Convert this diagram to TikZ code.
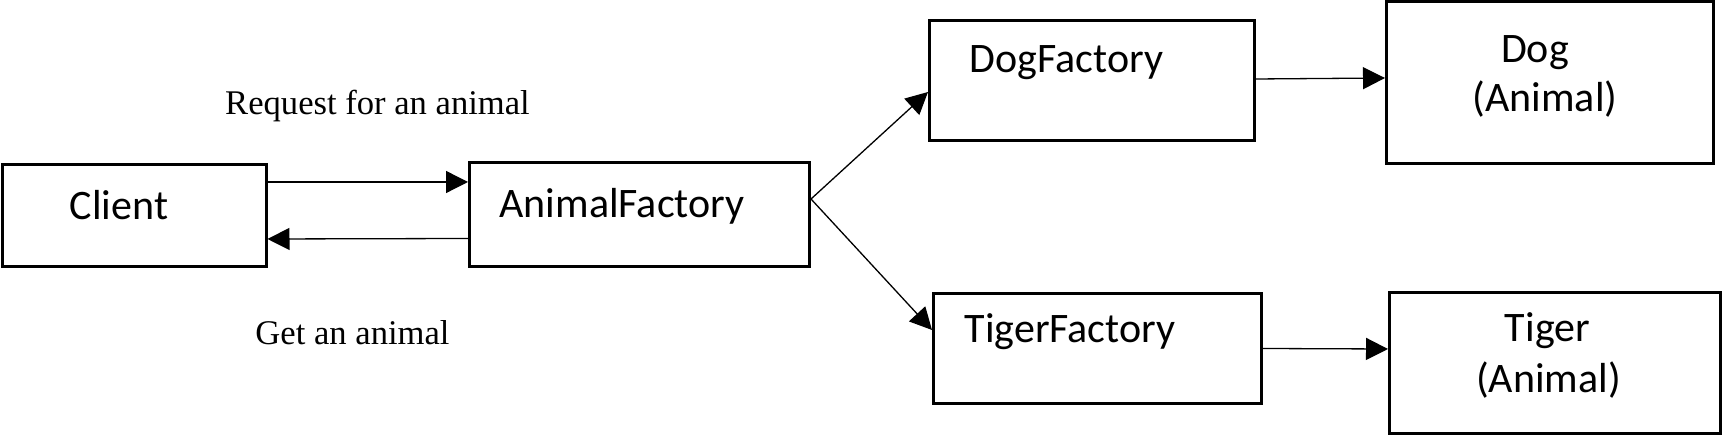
\documentclass[tikz,border=0pt]{standalone}
\usepackage{fontspec}
\setsansfont{Carlito}
\newfontfamily\notefont{Liberation Serif}
\usetikzlibrary{arrows.meta}

\begin{document}
\begin{tikzpicture}[x=0.5pt,y=-0.5pt]
    \useasboundingbox (0,0) rectangle (1725,437);

        % boxes
        \begin{scope}[every node/.style={rectangle,draw,line width=1.5pt,inner sep=0pt}]
            \node[minimum width=132pt,minimum height=51pt] (client) at (134,215.5) {};
            \node[minimum width=170pt,minimum height=52pt] (af) at (639.5,214.5) {};
            \node[minimum width=162.5pt,minimum height=60pt] (df) at (1092,80.5) {};
            \node[minimum width=163.5pt,minimum height=81pt] (dog) at (1550,82.5) {};
            \node[minimum width=164pt,minimum height=55pt] (tf) at (1097.5,348.5) {};
            \node[minimum width=165.5pt,minimum height=70.5pt] (tiger) at (1555,363) {};
        \end{scope}

        % box texts
        \begin{scope}[every node/.style={anchor=base,inner sep=0pt,font=\sffamily\fontsize{21}{25}\selectfont}]
            \node (clientT) at (119,220) {Client};
            \node (afT) at (622,218) {AnimalFactory};
            \node (dfT) at (1066.5,73) {DogFactory};
            \node (tfT) at (1070,343) {TigerFactory};
            \node (dogT) at (1535,63) {Dog};
            \node (dogA) at (1545,112) {(Animal)};
            \node (tigerT) at (1547.5,342) {Tiger};
            \node (tigerA) at (1548.5,393) {(Animal)};
        \end{scope}

        % notes
        \begin{scope}[every node/.style={anchor=base,inner sep=0pt,font=\notefont\fontsize{17.3}{20}\selectfont}]
            \node (req) at (377.5,115) {Request for an animal};
            \node (get) at (352.5,345) {Get an animal};
        \end{scope}

        \begin{scope}[>={Triangle[length=11pt,width=11pt]}, every edge/.style={draw,line width=0.65pt}]
            \path [->] ([yshift=16.75pt]client.east) edge ([yshift=16.25pt]af.west);
            \path [->] ([yshift=-12pt]af.west) edge ([yshift=-11.75pt]client.east);

            \path [->] ([yshift=7.75pt]af.east) edge ([yshift=-5.75pt]df.west);
            \path [->] ([yshift=7.75pt]af.east) edge ([yshift=9.25pt]tf.west);

            \path [->] ([yshift=0.75pt]df.east) edge ([yshift=2.25pt]dog.west);
            \path [->] (tf.east) edge ([yshift=7pt]tiger.west);
        \end{scope}

\end{tikzpicture}
\end{document}
